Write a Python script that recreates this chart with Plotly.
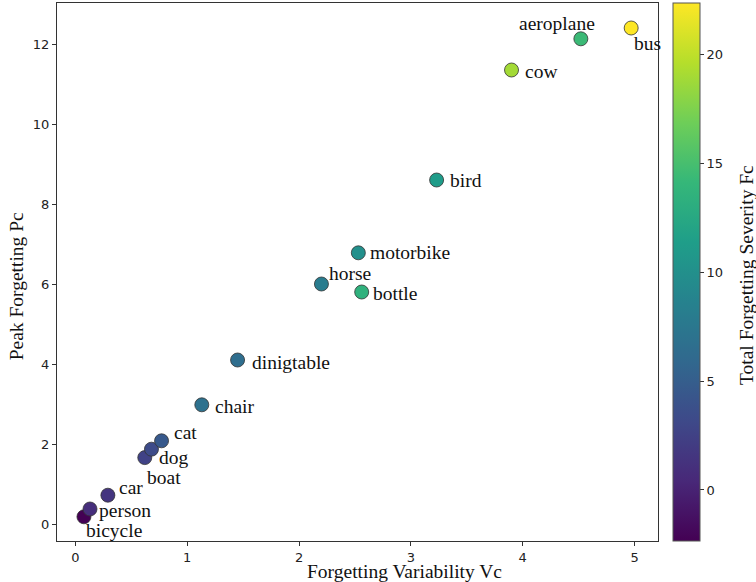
import plotly.graph_objects as go

# ---- data ----
classes = ["bicycle", "person", "car", "boat", "dog", "cat", "chair", "dinigtable",
           "horse", "motorbike", "bottle", "bird", "cow", "aeroplane", "bus"]
variability_vc = [0.076, 0.13, 0.29, 0.62, 0.68, 0.77, 1.13, 1.45,
                  2.20, 2.53, 2.56, 3.23, 3.90, 4.52, 4.97]
peak_pc = [0.18, 0.375, 0.72, 1.66, 1.87, 2.08, 2.98, 4.10,
           6.00, 6.78, 5.80, 8.60, 11.35, 12.13, 12.40]
severity_fc = [-2.34, 0.9, 1.5, 2.6, 3.3, 4.6, 6.8, 6.5,
               8.0, 10.0, 13.5, 11.2, 18.9, 14.4, 22.34]
x_ticks = [0, 1, 2, 3, 4, 5]
y_ticks = [0, 2, 4, 6, 8, 10, 12]
cbar_ticks = [0, 5, 10, 15, 20]

# ---- label placement (styling, in pixels) ----
label_offsets = {
    "bicycle": (0, -14, "left"),
    "person": (7, -1, "left"),
    "car": (9, 8, "left"),
    "boat": (0, -20, "left"),
    "dog": (6, -8, "left"),
    "cat": (10, 8, "left"),
    "chair": (11, -2, "left"),
    "dinigtable": (12, -2, "left"),
    "horse": (6, 11, "left"),
    "motorbike": (10, 0, "left"),
    "bottle": (9, -1, "left"),
    "bird": (11, 0, "left"),
    "cow": (11, -1, "left"),
    "aeroplane": (16, 15, "right"),
    "bus": (1, -15, "left"),
}

serif = "Liberation Serif, Times New Roman, serif"
sans = "DejaVu Sans, sans-serif"
axis_col = "#333333"
label_size = 19.5

fig = go.Figure()
fig.add_trace(go.Scatter(
    x=variability_vc, y=peak_pc, mode="markers",
    marker=dict(
        size=14, color=severity_fc, colorscale="Viridis",
        cmin=min(severity_fc), cmax=max(severity_fc),
        line=dict(color="#333333", width=0.8),
        colorbar=dict(
            x=1.025, xanchor="left", xpad=0, y=0.5, yanchor="middle", ypad=0,
            len=1, lenmode="fraction", thickness=27,
            outlinewidth=1, outlinecolor="#555555",
            tickvals=cbar_ticks, ticks="outside", ticklen=4, tickcolor=axis_col,
            tickfont=dict(family=sans, size=13, color="#222"),
        ),
    ),
    showlegend=False, hoverinfo="skip",
))

for name, xv, yv in zip(classes, variability_vc, peak_pc):
    dx, dy, anchor = label_offsets[name]
    fig.add_annotation(x=xv, y=yv, xref="x", yref="y", text=name, showarrow=False,
                       xanchor=anchor, yanchor="middle", xshift=dx, yshift=dy,
                       font=dict(family=serif, size=label_size, color="#111"))

# axis titles
fig.add_annotation(x=0.579, y=-0.0558, xref="paper", yref="paper", text="Forgetting Variability Vc",
                   showarrow=False, xanchor="center", yanchor="middle",
                   font=dict(family=serif, size=label_size, color="#111"))
fig.add_annotation(x=-0.066, y=0.474, xref="paper", yref="paper", text="Peak Forgetting Pc",
                   showarrow=False, textangle=-90, xanchor="center", yanchor="middle",
                   font=dict(family=serif, size=label_size, color="#111"))
fig.add_annotation(x=1.147, y=0.495, xref="paper", yref="paper", text="Total Forgetting Severity Fc",
                   showarrow=False, textangle=-90, xanchor="center", yanchor="middle",
                   font=dict(family=serif, size=label_size, color="#111"))

fig.update_xaxes(range=[-0.165, 5.21], tickvals=x_ticks, showgrid=False, zeroline=False,
                 showline=True, mirror=True, linecolor=axis_col, linewidth=1,
                 ticks="outside", ticklen=4, tickcolor=axis_col,
                 tickfont=dict(family=sans, size=13, color="#222"))
fig.update_yaxes(range=[-0.425, 13.025], tickvals=y_ticks, showgrid=False, zeroline=False,
                 showline=True, mirror=True, linecolor=axis_col, linewidth=1,
                 ticks="outside", ticklen=4, tickcolor=axis_col,
                 tickfont=dict(family=sans, size=13, color="#222"))

fig.update_layout(width=756, height=582,
                  margin=dict(l=57, r=98, t=3, b=41, autoexpand=False),
                  plot_bgcolor="white", paper_bgcolor="white")

fig.write_html("out.html", config={"displayModeBar": False},
               post_script="document.body.style.margin='0';document.body.style.overflow='hidden';")
